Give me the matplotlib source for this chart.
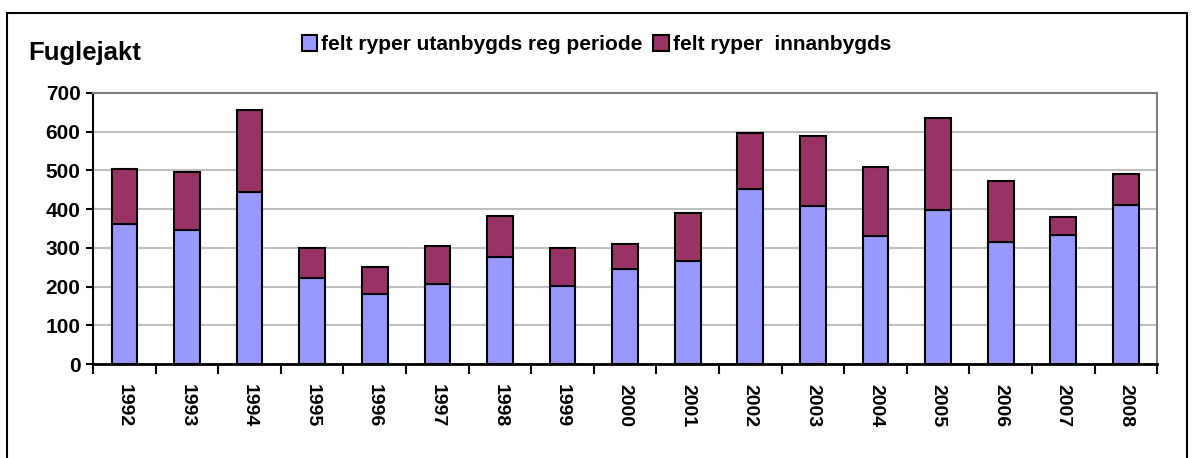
import numpy as np
import matplotlib.pyplot as plt
from matplotlib.patches import Rectangle

plt.rcParams['font.family'] = ['Liberation Sans', 'DejaVu Sans']

years = ['1992', '1993', '1994', '1995', '1996', '1997', '1998', '1999', '2000',
         '2001', '2002', '2003', '2004', '2005', '2006', '2007', '2008']
utanbygds = [363, 346, 445, 223, 182, 208, 276, 202, 246,
             267, 452, 408, 330, 398, 315, 334, 410]
innanbygds = [141, 150, 212, 76, 68, 97, 107, 98, 64,
              124, 145, 180, 178, 238, 159, 47, 81]

fig = plt.figure(figsize=(11.93, 4.58), dpi=100)
ax = fig.add_axes([0.078, 0.205, 0.892, 0.592])

x = np.arange(len(years))
ax.bar(x, utanbygds, width=0.41, color='#9999ff', edgecolor='black', linewidth=1.5,
       label='felt ryper utanbygds reg periode', zorder=3)
ax.bar(x, innanbygds, width=0.41, bottom=utanbygds, color='#993366',
       edgecolor='black', linewidth=1.5, label='felt ryper  innanbygds', zorder=3)

ax.set_xlim(-0.5, len(years) - 0.5)
ax.set_ylim(0, 700)
ax.set_yticks(range(0, 701, 100))
ax.yaxis.grid(True, color='#c0c0c0', linewidth=1.5, zorder=0)

# year labels at centres, tick marks at category boundaries
ax.set_xticks(np.arange(-0.5, len(years)), labels=[''] * (len(years) + 1))
ax.set_xticks(x, labels=years, minor=True)
ax.tick_params(axis='x', which='major', direction='out', length=7, width=1.5)
ax.tick_params(axis='x', which='minor', length=0, pad=14, rotation=-90)
ax.tick_params(axis='y', direction='out', length=5, width=1.5, pad=4)
for lbl in ax.get_xticklabels(minor=True):
    lbl.set_fontweight('bold')
    lbl.set_fontsize(14)
for lbl in ax.get_yticklabels():
    lbl.set_fontweight('bold')
    lbl.set_fontsize(15)

ax.spines['left'].set_linewidth(1.5)
ax.spines['bottom'].set_linewidth(2)
ax.spines['top'].set_color('#808080')
ax.spines['right'].set_color('#808080')
ax.spines['top'].set_linewidth(1.5)
ax.spines['right'].set_linewidth(1.5)

fig.text(0.024, 0.885, 'Fuglejakt', fontsize=18.5, fontweight='bold', va='center')
fig.legend(loc='center', bbox_to_anchor=(0.5, 0.902), ncol=2, frameon=False,
           handlelength=0.75, handleheight=0.75, handletextpad=0.2, columnspacing=0.5,
           prop={'weight': 'bold', 'size': 15})

# outer chart frame
fig.patches.append(Rectangle((0.006, -0.01), 0.989, 0.982, transform=fig.transFigure,
                             fill=False, edgecolor='black', linewidth=1.5))

fig.savefig('out.png', dpi=100)
